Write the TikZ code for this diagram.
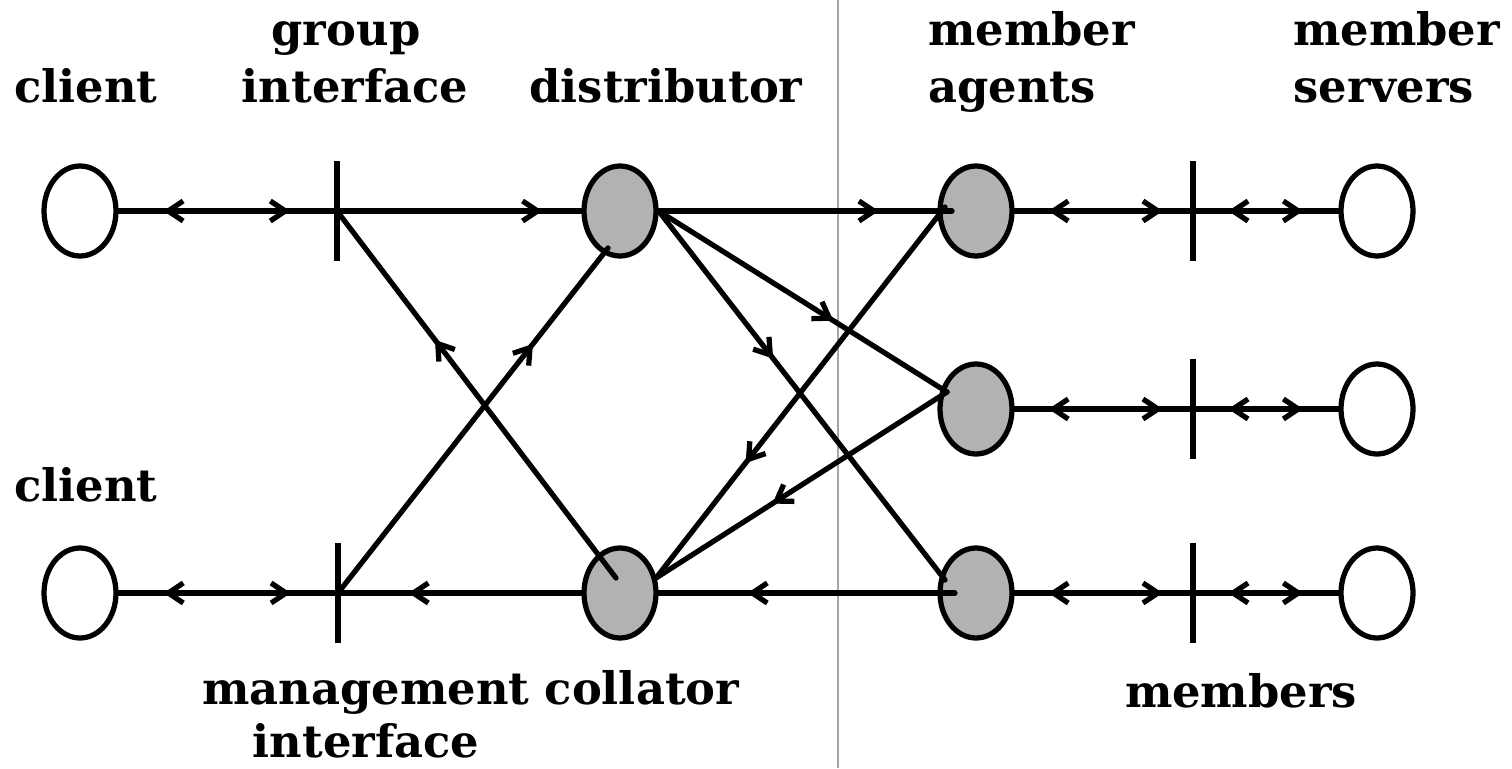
\documentclass[tikz,border=0pt]{standalone}
\usepackage{fontspec}
\setmainfont{DejaVu Serif}
\usetikzlibrary{shapes.geometric,arrows.meta,decorations.markings,calc}
\tikzset{
  mtip/.tip={Straight Barb[length=0.3cm,width=0.4cm]},
  conn/.style={line width=0.105cm, line cap=round},
  fw/.style={postaction={decorate,decoration={markings,mark=at position #1 with {\arrow{mtip}}}}},
  bw/.style={postaction={decorate,decoration={markings,mark=at position #1 with {\arrowreversed{mtip}}}}},
  endpt/.style={ellipse, draw, line width=0.105cm, minimum width=1.44cm, minimum height=1.8cm, inner sep=0pt, fill=white},
  proc/.style={endpt, fill=black!30},
  bar/.style={line width=0.105cm},
  lbl/.style={font=\fontsize{25.5}{32}\selectfont\bfseries, inner sep=0pt, anchor=base},
  lbll/.style={lbl, anchor=base west},
}
\begin{document}
\begin{tikzpicture}[x=0.02cm,y=-0.02cm]
\useasboundingbox (0,0) rectangle (1512,768);
% separator
\coordinate (sepT) at (838,0);
\coordinate (sepB) at (838,768);
\draw[line width=0.03cm, black!35] (sepT) -- (sepB);
% nodes
\node[endpt] (c1) at (80,211) {};
\node[endpt] (c2) at (80,593) {};
\node[proc] (dist) at (620,211) {};
\node[proc] (coll) at (620,593) {};
\node[proc] (a1) at (976,211) {};
\node[proc] (a2) at (976,409) {};
\node[proc] (a3) at (976,593) {};
\node[endpt] (s1) at (1377,211) {};
\node[endpt] (s2) at (1377,409) {};
\node[endpt] (s3) at (1377,593) {};
% bars
\coordinate (gi) at (337,211);
\coordinate (mi) at (338,593);
\coordinate (m1) at (1193,211);
\coordinate (m2) at (1193,409);
\coordinate (m3) at (1193,593);
\foreach \b in {gi,mi,m1,m2,m3} {
  \draw[bar] ($(\b)+(0,-50)$) -- ($(\b)+(0,50)$);
}
% connection points
\coordinate (dIn) at (608,248);
\coordinate (cIn) at (616,578);
\coordinate (cOut) at (656,578);
\coordinate (a1In) at (952,211);
\coordinate (a1Out) at (945,207);
\coordinate (a2In) at (947,392);
\coordinate (a3In) at (945,580);
\coordinate (a3Out) at (955,593);
% connectors
\draw[conn, bw=0.205, fw=0.785] (c1.east) -- (gi);
\draw[conn, bw=0.205, fw=0.785] (c2.east) -- (mi);
\draw[conn, fw=0.84] (gi) -- (dist.west);
\draw[conn, fw=0.75] (dist.east) -- (a1In);
\draw[conn, fw=0.649] (cIn) -- (gi);
\draw[conn, fw=0.722] (mi) -- (dIn);
\draw[conn, fw=0.606] (dist.east) -- (a2In);
\draw[conn, fw=0.40] (dist.east) -- (a3In);
\draw[conn, fw=0.69] (a1Out) -- (cOut);
\draw[conn, fw=0.60] (a2In) -- (cOut);
\draw[conn, fw=0.70] (a3Out) -- (coll.east);
\draw[conn, fw=0.71] (coll.west) -- (mi);
\draw[conn, bw=0.19, fw=0.83] (a1.east) -- (m1);
\draw[conn, bw=0.19, fw=0.83] (a2.east) -- (m2);
\draw[conn, bw=0.19, fw=0.83] (a3.east) -- (m3);
\draw[conn, bw=0.243, fw=0.757] (m1) -- (s1.west);
\draw[conn, bw=0.243, fw=0.757] (m2) -- (s2.west);
\draw[conn, bw=0.243, fw=0.757] (m3) -- (s3.west);
% labels
\node[lbl] (lc1) at (86,102) {client};
\node[lbl] (lg1) at (346,45) {group};
\node[lbl] (lg2) at (355,102) {interface};
\node[lbl] (ld) at (666,102) {distributor};
\node[lbll] (la1) at (928,45) {member};
\node[lbll] (la2) at (928,102) {agents};
\node[lbll] (ls1) at (1293,45) {member};
\node[lbll] (ls2) at (1293,102) {servers};
\node[lbl] (lc2) at (86,501) {client};
\node[lbl] (lm1) at (366,704) {management};
\node[lbl] (lm2) at (366,757) {interface};
\node[lbl] (lco) at (642,704) {collator};
\node[lbl] (lms) at (1241,707) {members};
\end{tikzpicture}
\end{document}
